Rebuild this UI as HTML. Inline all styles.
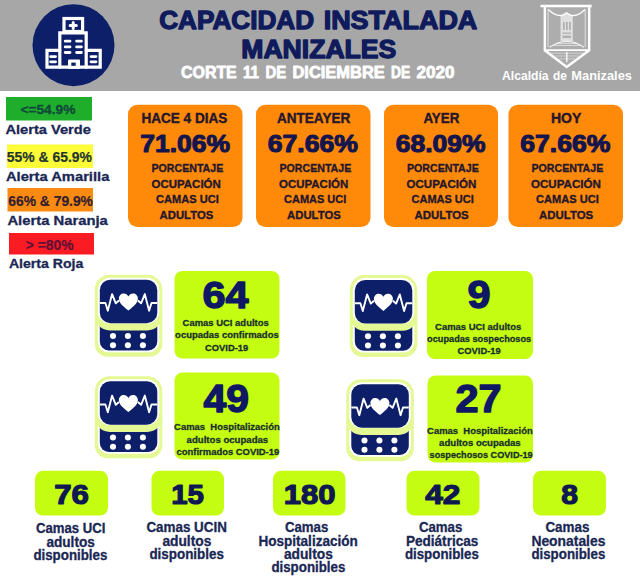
<!DOCTYPE html>
<html lang="es">
<head>
<meta charset="utf-8">
<title>Capacidad Instalada Manizales</title>
<style>
html,body{margin:0;padding:0;background:#ffffff;}
body{width:640px;height:576px;overflow:hidden;font-family:"Liberation Sans",sans-serif;}
svg{display:block;font-family:"Liberation Sans",sans-serif;}
text{white-space:pre;}
</style>
</head>
<body>
<svg width="640" height="576" viewBox="0 0 640 576">
<rect x="0" y="0" width="640" height="576" fill="#ffffff"/>
<rect x="0.00" y="0.00" width="640.00" height="91.00" rx="0" fill="#a7a7a7" />
<circle cx="73.5" cy="45.2" r="41" fill="#0c1f68"/>
<g fill="none" stroke="#fff" stroke-width="3.2" stroke-linejoin="miter" stroke-linecap="round"><rect x="64" y="18.5" width="18.6" height="13"/><path d="M59.8 67.2V32.8H86.2V67.2"/><path d="M59.8 50.4H47V67.2H100.2V50.4H86.2"/><path d="M65.2 41.2H70M76.6 41.2H81.4M65.2 46.9H70M76.6 46.9H81.4M65.2 52.5H70M76.6 52.5H81.4" stroke-width="2.8"/><path d="M50.6 56.6H55.6M50.6 61.8H55.6M91 56.6H96M91 61.8H96" stroke-width="2.8"/><path d="M73.2 22.4V28.6M70.1 25.5H76.3" stroke-width="3"/></g>
<rect x="68" y="59.4" width="12" height="9.4" rx="0.8" fill="#fff"/><rect x="71.3" y="62.6" width="4.4" height="3.2" fill="#0c1f68"/>
<text x="159.26" y="29.35" font-size="25.22" font-weight="bold" fill="#0f1b5c" textLength="154.86" lengthAdjust="spacingAndGlyphs" stroke="#0f1b5c" stroke-width="1.3" stroke-linejoin="round" >CAPACIDAD</text>
<text x="323.66" y="29.35" font-size="25.22" font-weight="bold" fill="#0f1b5c" textLength="153.66" lengthAdjust="spacingAndGlyphs" stroke="#0f1b5c" stroke-width="1.3" stroke-linejoin="round" >INSTALADA</text>
<text x="241.27" y="58.15" font-size="25.07" font-weight="bold" fill="#0f1b5c" textLength="155.04" lengthAdjust="spacingAndGlyphs" stroke="#0f1b5c" stroke-width="1.3" stroke-linejoin="round" >MANIZALES</text>
<text x="181.01" y="77.60" font-size="16.23" font-weight="bold" fill="#ffffff" textLength="55.72" lengthAdjust="spacingAndGlyphs" stroke="#ffffff" stroke-width="0.8" stroke-linejoin="round" >CORTE</text>
<text x="242.91" y="77.60" font-size="16.23" font-weight="bold" fill="#ffffff" textLength="16.03" lengthAdjust="spacingAndGlyphs" stroke="#ffffff" stroke-width="0.8" stroke-linejoin="round" >11</text>
<text x="265.51" y="77.60" font-size="16.23" font-weight="bold" fill="#ffffff" textLength="20.72" lengthAdjust="spacingAndGlyphs" stroke="#ffffff" stroke-width="0.8" stroke-linejoin="round" >DE</text>
<text x="292.51" y="77.60" font-size="16.23" font-weight="bold" fill="#ffffff" textLength="92.22" lengthAdjust="spacingAndGlyphs" stroke="#ffffff" stroke-width="0.8" stroke-linejoin="round" >DICIEMBRE</text>
<text x="391.01" y="77.60" font-size="16.23" font-weight="bold" fill="#ffffff" textLength="19.22" lengthAdjust="spacingAndGlyphs" stroke="#ffffff" stroke-width="0.8" stroke-linejoin="round" >DE</text>
<text x="416.41" y="77.60" font-size="16.23" font-weight="bold" fill="#ffffff" textLength="38.03" lengthAdjust="spacingAndGlyphs" stroke="#ffffff" stroke-width="0.8" stroke-linejoin="round" >2020</text>
<path d="M544.8 7V50L566.5 66.5L588.8 50V7Z" fill="#fff" opacity="0.07"/>
<g fill="none" stroke="#fff" stroke-linejoin="miter"><path d="M540.5 6H591.7" stroke-width="2.6"/><path d="M544.8 6.5V50.3L566.7 67L589.2 50.3V6.5" stroke-width="2.4"/><path d="M548 9.5V47M585.2 9.5V47" stroke-width="0.8" opacity="0.8"/><path d="M545 50.2H589" stroke-width="1.8"/><path d="M548.3 9.5Q556 16.8 562.5 15.3L566.6 12.8L570.7 15.3Q577.5 16.8 585 9.5" stroke-width="1.5" opacity="0.95"/><path d="M549.5 47.3Q566.7 35.5 584 47.3" stroke-width="1.2" opacity="0.85"/><path d="M553.5 45.4H580M557 43.3H576.5" stroke-width="0.9" opacity="0.7"/><path d="M551 53.2H583M555 56H579M559 58.8H575" stroke-width="0.8" opacity="0.55"/><path d="M566.8 52V62" stroke-width="1.6" opacity="0.8"/></g>
<g fill="#fff"><path d="M560.5 15.5L566.6 13L572.8 15.5V41H560.5Z" opacity="0.62"/></g>
<g fill="#a7a7a7" opacity="0.8"><rect x="563" y="22" width="1.8" height="8"/><rect x="566" y="22" width="1.8" height="8"/><rect x="569" y="22" width="1.8" height="8"/><rect x="562.5" y="32.5" width="8.5" height="1.4"/><rect x="562.5" y="35.5" width="8.5" height="2.6"/></g>
<text x="502.02" y="80.00" font-size="12.32" font-weight="bold" fill="#ffffff" textLength="46.55" lengthAdjust="spacingAndGlyphs" >Alcaldía</text>
<text x="553.02" y="80.00" font-size="12.32" font-weight="bold" fill="#ffffff" textLength="13.85" lengthAdjust="spacingAndGlyphs" >de</text>
<text x="571.32" y="80.00" font-size="12.32" font-weight="bold" fill="#ffffff" textLength="60.65" lengthAdjust="spacingAndGlyphs" >Manizales</text>
<rect x="6.00" y="97.00" width="86.00" height="23.50" rx="0" fill="#1eae2b" />
<text x="20.40" y="114.15" font-size="13.62" font-weight="bold" fill="#12493a" textLength="54.97" lengthAdjust="spacingAndGlyphs" stroke="#12493a" stroke-width="0.3" stroke-linejoin="round" >&lt;=54.9%</text>
<text x="5.42" y="134.35" font-size="13.33" font-weight="bold" fill="#1a2754" textLength="85.45" lengthAdjust="spacingAndGlyphs" stroke="#1a2754" stroke-width="0.3" stroke-linejoin="round" >Alerta Verde</text>
<rect x="7.00" y="144.50" width="86.00" height="23.50" rx="0" fill="#fcfd38" />
<text x="6.82" y="161.90" font-size="14.20" font-weight="bold" fill="#24342e" textLength="85.13" lengthAdjust="spacingAndGlyphs" stroke="#24342e" stroke-width="0.2" stroke-linejoin="round" >55% &amp; 65.9%</text>
<text x="5.92" y="181.35" font-size="13.33" font-weight="bold" fill="#1a2754" textLength="103.45" lengthAdjust="spacingAndGlyphs" stroke="#1a2754" stroke-width="0.3" stroke-linejoin="round" >Alerta Amarilla</text>
<rect x="7.50" y="188.00" width="85.50" height="23.50" rx="0" fill="#f98a12" />
<text x="8.33" y="205.90" font-size="14.06" font-weight="bold" fill="#33202e" textLength="84.61" lengthAdjust="spacingAndGlyphs" stroke="#33202e" stroke-width="0.2" stroke-linejoin="round" >66% &amp; 79.9%</text>
<text x="7.42" y="224.85" font-size="13.33" font-weight="bold" fill="#1a2754" textLength="100.45" lengthAdjust="spacingAndGlyphs" stroke="#1a2754" stroke-width="0.3" stroke-linejoin="round" >Alerta Naranja</text>
<rect x="9.00" y="233.00" width="85.00" height="21.50" rx="0" fill="#fb1b22" />
<text x="25.83" y="249.60" font-size="14.06" font-weight="bold" fill="#5f1038" textLength="47.61" lengthAdjust="spacingAndGlyphs" stroke="#5f1038" stroke-width="0.2" stroke-linejoin="round" >&gt; =80%</text>
<text x="8.92" y="267.85" font-size="13.33" font-weight="bold" fill="#1a2754" textLength="74.45" lengthAdjust="spacingAndGlyphs" stroke="#1a2754" stroke-width="0.3" stroke-linejoin="round" >Alerta Roja</text>
<rect x="128.00" y="104.80" width="114.50" height="122.20" rx="9.5" fill="#ff8a0a" />
<text x="141.44" y="122.70" font-size="13.77" font-weight="bold" fill="#26172a" textLength="85.89" lengthAdjust="spacingAndGlyphs" stroke="#26172a" stroke-width="0.4" stroke-linejoin="round" >HACE 4 DIAS</text>
<text x="140.31" y="151.95" font-size="24.78" font-weight="bold" fill="#14154c" textLength="89.66" lengthAdjust="spacingAndGlyphs" stroke="#14154c" stroke-width="1.1" stroke-linejoin="round" >71.06%</text>
<text x="151.55" y="172.02" font-size="11.38" font-weight="bold" fill="#26172a" textLength="71.71" lengthAdjust="spacingAndGlyphs" stroke="#26172a" stroke-width="0.35" stroke-linejoin="round" >PORCENTAJE</text>
<text x="151.55" y="187.52" font-size="11.38" font-weight="bold" fill="#26172a" textLength="69.21" lengthAdjust="spacingAndGlyphs" stroke="#26172a" stroke-width="0.35" stroke-linejoin="round" >OCUPACIÓN</text>
<text x="156.05" y="203.22" font-size="11.38" font-weight="bold" fill="#26172a" textLength="62.71" lengthAdjust="spacingAndGlyphs" stroke="#26172a" stroke-width="0.35" stroke-linejoin="round" >CAMAS UCI</text>
<text x="159.55" y="219.12" font-size="11.38" font-weight="bold" fill="#26172a" textLength="53.71" lengthAdjust="spacingAndGlyphs" stroke="#26172a" stroke-width="0.35" stroke-linejoin="round" >ADULTOS</text>
<rect x="256.00" y="104.80" width="114.50" height="122.20" rx="9.5" fill="#ff8a0a" />
<text x="276.94" y="122.70" font-size="13.77" font-weight="bold" fill="#26172a" textLength="73.39" lengthAdjust="spacingAndGlyphs" stroke="#26172a" stroke-width="0.4" stroke-linejoin="round" >ANTEAYER</text>
<text x="267.81" y="151.95" font-size="24.78" font-weight="bold" fill="#14154c" textLength="90.16" lengthAdjust="spacingAndGlyphs" stroke="#14154c" stroke-width="1.1" stroke-linejoin="round" >67.66%</text>
<text x="279.55" y="172.02" font-size="11.38" font-weight="bold" fill="#26172a" textLength="71.71" lengthAdjust="spacingAndGlyphs" stroke="#26172a" stroke-width="0.35" stroke-linejoin="round" >PORCENTAJE</text>
<text x="279.05" y="187.52" font-size="11.38" font-weight="bold" fill="#26172a" textLength="69.21" lengthAdjust="spacingAndGlyphs" stroke="#26172a" stroke-width="0.35" stroke-linejoin="round" >OCUPACIÓN</text>
<text x="284.05" y="203.22" font-size="11.38" font-weight="bold" fill="#26172a" textLength="62.21" lengthAdjust="spacingAndGlyphs" stroke="#26172a" stroke-width="0.35" stroke-linejoin="round" >CAMAS UCI</text>
<text x="287.05" y="219.12" font-size="11.38" font-weight="bold" fill="#26172a" textLength="53.71" lengthAdjust="spacingAndGlyphs" stroke="#26172a" stroke-width="0.35" stroke-linejoin="round" >ADULTOS</text>
<rect x="384.00" y="104.80" width="114.00" height="122.20" rx="9.5" fill="#ff8a0a" />
<text x="423.44" y="122.70" font-size="13.77" font-weight="bold" fill="#26172a" textLength="35.89" lengthAdjust="spacingAndGlyphs" stroke="#26172a" stroke-width="0.4" stroke-linejoin="round" >AYER</text>
<text x="395.81" y="151.95" font-size="24.78" font-weight="bold" fill="#14154c" textLength="89.66" lengthAdjust="spacingAndGlyphs" stroke="#14154c" stroke-width="1.1" stroke-linejoin="round" >68.09%</text>
<text x="407.05" y="172.02" font-size="11.38" font-weight="bold" fill="#26172a" textLength="71.71" lengthAdjust="spacingAndGlyphs" stroke="#26172a" stroke-width="0.35" stroke-linejoin="round" >PORCENTAJE</text>
<text x="406.55" y="187.52" font-size="11.38" font-weight="bold" fill="#26172a" textLength="69.71" lengthAdjust="spacingAndGlyphs" stroke="#26172a" stroke-width="0.35" stroke-linejoin="round" >OCUPACIÓN</text>
<text x="411.55" y="203.22" font-size="11.38" font-weight="bold" fill="#26172a" textLength="62.21" lengthAdjust="spacingAndGlyphs" stroke="#26172a" stroke-width="0.35" stroke-linejoin="round" >CAMAS UCI</text>
<text x="414.55" y="219.12" font-size="11.38" font-weight="bold" fill="#26172a" textLength="54.21" lengthAdjust="spacingAndGlyphs" stroke="#26172a" stroke-width="0.35" stroke-linejoin="round" >ADULTOS</text>
<rect x="508.50" y="104.80" width="114.50" height="122.20" rx="9.5" fill="#ff8a0a" />
<text x="550.94" y="122.70" font-size="13.77" font-weight="bold" fill="#26172a" textLength="30.39" lengthAdjust="spacingAndGlyphs" stroke="#26172a" stroke-width="0.4" stroke-linejoin="round" >HOY</text>
<text x="520.31" y="151.95" font-size="24.78" font-weight="bold" fill="#14154c" textLength="90.16" lengthAdjust="spacingAndGlyphs" stroke="#14154c" stroke-width="1.1" stroke-linejoin="round" >67.66%</text>
<text x="531.55" y="172.02" font-size="11.38" font-weight="bold" fill="#26172a" textLength="71.71" lengthAdjust="spacingAndGlyphs" stroke="#26172a" stroke-width="0.35" stroke-linejoin="round" >PORCENTAJE</text>
<text x="531.05" y="187.52" font-size="11.38" font-weight="bold" fill="#26172a" textLength="69.71" lengthAdjust="spacingAndGlyphs" stroke="#26172a" stroke-width="0.35" stroke-linejoin="round" >OCUPACIÓN</text>
<text x="536.05" y="203.22" font-size="11.38" font-weight="bold" fill="#26172a" textLength="62.71" lengthAdjust="spacingAndGlyphs" stroke="#26172a" stroke-width="0.35" stroke-linejoin="round" >CAMAS UCI</text>
<text x="539.05" y="219.12" font-size="11.38" font-weight="bold" fill="#26172a" textLength="54.21" lengthAdjust="spacingAndGlyphs" stroke="#26172a" stroke-width="0.35" stroke-linejoin="round" >ADULTOS</text>
<g transform="translate(99.80,279.70)"><rect x="-5" y="25" width="67.5" height="52.1" rx="13" fill="#e4f894"/><rect x="-2" y="27" width="61.5" height="45.6" rx="10.5" fill="#fff"/><rect x="0" y="30" width="57.5" height="40.7" rx="9" fill="#0c1f68"/><rect x="-5" y="-5" width="67.5" height="55.8" rx="15" fill="#e4f894"/><rect x="-2" y="-2" width="61.5" height="45.8" rx="12" fill="#fff"/><rect x="0" y="0" width="57.5" height="43.5" rx="10.5" fill="#0c1f68"/><path d="M0 23.3H5.6L8 31L12.3 14.4L16 23.6L19.2 20.8M38.1 20.8L41.3 23.6L45 14.4L49.3 31L51.7 23.3H57.5" fill="none" stroke="#fff" stroke-width="1.9" stroke-linejoin="round"/><path d="M28.6 30.9 C24 27 19.1 23.4 19.1 19 C19.1 15.8 21.4 13.8 23.9 13.8 C26 13.8 27.6 15 28.6 16.7 C29.6 15 31.2 13.8 33.3 13.8 C35.8 13.8 38.1 15.8 38.1 19 C38.1 23.4 33.2 27 28.6 30.9Z" fill="#fff"/><circle cx="13.2" cy="56.3" r="3.05" fill="#fff"/><circle cx="13.2" cy="65.5" r="3.05" fill="#fff"/><circle cx="28.1" cy="56.3" r="3.05" fill="#fff"/><circle cx="28.1" cy="65.5" r="3.05" fill="#fff"/><circle cx="43.1" cy="56.3" r="3.05" fill="#fff"/><circle cx="43.1" cy="65.5" r="3.05" fill="#fff"/></g>
<g transform="translate(99.80,381.20)"><rect x="-5" y="25" width="67.5" height="52.1" rx="13" fill="#e4f894"/><rect x="-2" y="27" width="61.5" height="45.6" rx="10.5" fill="#fff"/><rect x="0" y="30" width="57.5" height="40.7" rx="9" fill="#0c1f68"/><rect x="-5" y="-5" width="67.5" height="55.8" rx="15" fill="#e4f894"/><rect x="-2" y="-2" width="61.5" height="45.8" rx="12" fill="#fff"/><rect x="0" y="0" width="57.5" height="43.5" rx="10.5" fill="#0c1f68"/><path d="M0 23.3H5.6L8 31L12.3 14.4L16 23.6L19.2 20.8M38.1 20.8L41.3 23.6L45 14.4L49.3 31L51.7 23.3H57.5" fill="none" stroke="#fff" stroke-width="1.9" stroke-linejoin="round"/><path d="M28.6 30.9 C24 27 19.1 23.4 19.1 19 C19.1 15.8 21.4 13.8 23.9 13.8 C26 13.8 27.6 15 28.6 16.7 C29.6 15 31.2 13.8 33.3 13.8 C35.8 13.8 38.1 15.8 38.1 19 C38.1 23.4 33.2 27 28.6 30.9Z" fill="#fff"/><circle cx="13.2" cy="56.3" r="3.05" fill="#fff"/><circle cx="13.2" cy="65.5" r="3.05" fill="#fff"/><circle cx="28.1" cy="56.3" r="3.05" fill="#fff"/><circle cx="28.1" cy="65.5" r="3.05" fill="#fff"/><circle cx="43.1" cy="56.3" r="3.05" fill="#fff"/><circle cx="43.1" cy="65.5" r="3.05" fill="#fff"/></g>
<g transform="translate(354.80,280.00)"><rect x="-5" y="25" width="67.5" height="52.1" rx="13" fill="#e4f894"/><rect x="-2" y="27" width="61.5" height="45.6" rx="10.5" fill="#fff"/><rect x="0" y="30" width="57.5" height="40.7" rx="9" fill="#0c1f68"/><rect x="-5" y="-5" width="67.5" height="55.8" rx="15" fill="#e4f894"/><rect x="-2" y="-2" width="61.5" height="45.8" rx="12" fill="#fff"/><rect x="0" y="0" width="57.5" height="43.5" rx="10.5" fill="#0c1f68"/><path d="M0 23.3H5.6L8 31L12.3 14.4L16 23.6L19.2 20.8M38.1 20.8L41.3 23.6L45 14.4L49.3 31L51.7 23.3H57.5" fill="none" stroke="#fff" stroke-width="1.9" stroke-linejoin="round"/><path d="M28.6 30.9 C24 27 19.1 23.4 19.1 19 C19.1 15.8 21.4 13.8 23.9 13.8 C26 13.8 27.6 15 28.6 16.7 C29.6 15 31.2 13.8 33.3 13.8 C35.8 13.8 38.1 15.8 38.1 19 C38.1 23.4 33.2 27 28.6 30.9Z" fill="#fff"/><circle cx="13.2" cy="56.3" r="3.05" fill="#fff"/><circle cx="13.2" cy="65.5" r="3.05" fill="#fff"/><circle cx="28.1" cy="56.3" r="3.05" fill="#fff"/><circle cx="28.1" cy="65.5" r="3.05" fill="#fff"/><circle cx="43.1" cy="56.3" r="3.05" fill="#fff"/><circle cx="43.1" cy="65.5" r="3.05" fill="#fff"/></g>
<g transform="translate(351.30,384.20)"><rect x="-5" y="25" width="67.5" height="52.1" rx="13" fill="#e4f894"/><rect x="-2" y="27" width="61.5" height="45.6" rx="10.5" fill="#fff"/><rect x="0" y="30" width="57.5" height="40.7" rx="9" fill="#0c1f68"/><rect x="-5" y="-5" width="67.5" height="55.8" rx="15" fill="#e4f894"/><rect x="-2" y="-2" width="61.5" height="45.8" rx="12" fill="#fff"/><rect x="0" y="0" width="57.5" height="43.5" rx="10.5" fill="#0c1f68"/><path d="M0 23.3H5.6L8 31L12.3 14.4L16 23.6L19.2 20.8M38.1 20.8L41.3 23.6L45 14.4L49.3 31L51.7 23.3H57.5" fill="none" stroke="#fff" stroke-width="1.9" stroke-linejoin="round"/><path d="M28.6 30.9 C24 27 19.1 23.4 19.1 19 C19.1 15.8 21.4 13.8 23.9 13.8 C26 13.8 27.6 15 28.6 16.7 C29.6 15 31.2 13.8 33.3 13.8 C35.8 13.8 38.1 15.8 38.1 19 C38.1 23.4 33.2 27 28.6 30.9Z" fill="#fff"/><circle cx="13.2" cy="56.3" r="3.05" fill="#fff"/><circle cx="13.2" cy="65.5" r="3.05" fill="#fff"/><circle cx="28.1" cy="56.3" r="3.05" fill="#fff"/><circle cx="28.1" cy="65.5" r="3.05" fill="#fff"/><circle cx="43.1" cy="56.3" r="3.05" fill="#fff"/><circle cx="43.1" cy="65.5" r="3.05" fill="#fff"/></g>
<rect x="174.50" y="271.00" width="105.00" height="87.50" rx="8" fill="#c5fd12" />
<text x="202.57" y="307.80" font-size="37.83" font-weight="bold" fill="#0f1862" textLength="46.03" lengthAdjust="spacingAndGlyphs" stroke="#0f1862" stroke-width="1.4" stroke-linejoin="round" >64</text>
<text x="182.62" y="326.35" font-size="9.57" font-weight="bold" fill="#18302c" textLength="86.09" lengthAdjust="spacingAndGlyphs" stroke="#18302c" stroke-width="0.3" stroke-linejoin="round" >Camas UCI adultos</text>
<text x="175.12" y="338.35" font-size="9.57" font-weight="bold" fill="#18302c" textLength="103.59" lengthAdjust="spacingAndGlyphs" stroke="#18302c" stroke-width="0.3" stroke-linejoin="round" >ocupadas confirmados</text>
<text x="205.12" y="350.85" font-size="9.57" font-weight="bold" fill="#18302c" textLength="43.09" lengthAdjust="spacingAndGlyphs" stroke="#18302c" stroke-width="0.3" stroke-linejoin="round" >COVID-19</text>
<rect x="174.50" y="372.50" width="105.00" height="87.00" rx="8" fill="#c5fd12" />
<text x="203.54" y="412.30" font-size="38.55" font-weight="bold" fill="#0f1862" textLength="45.57" lengthAdjust="spacingAndGlyphs" stroke="#0f1862" stroke-width="1.4" stroke-linejoin="round" >49</text>
<text x="174.12" y="430.05" font-size="9.57" font-weight="bold" fill="#18302c" textLength="105.59" lengthAdjust="spacingAndGlyphs" stroke="#18302c" stroke-width="0.3" stroke-linejoin="round" >Camas  Hospitalización</text>
<text x="186.62" y="442.55" font-size="9.57" font-weight="bold" fill="#18302c" textLength="81.59" lengthAdjust="spacingAndGlyphs" stroke="#18302c" stroke-width="0.3" stroke-linejoin="round" >adultos ocupadas</text>
<text x="176.62" y="455.05" font-size="9.57" font-weight="bold" fill="#18302c" textLength="102.59" lengthAdjust="spacingAndGlyphs" stroke="#18302c" stroke-width="0.3" stroke-linejoin="round" >confirmados COVID-19</text>
<rect x="427.00" y="271.00" width="106.00" height="88.00" rx="8" fill="#c5fd12" />
<text x="467.54" y="308.30" font-size="38.55" font-weight="bold" fill="#0f1862" textLength="23.07" lengthAdjust="spacingAndGlyphs" stroke="#0f1862" stroke-width="1.4" stroke-linejoin="round" >9</text>
<text x="435.12" y="329.75" font-size="9.57" font-weight="bold" fill="#18302c" textLength="86.09" lengthAdjust="spacingAndGlyphs" stroke="#18302c" stroke-width="0.3" stroke-linejoin="round" >Camas UCI adultos</text>
<text x="427.12" y="341.75" font-size="9.57" font-weight="bold" fill="#18302c" textLength="104.09" lengthAdjust="spacingAndGlyphs" stroke="#18302c" stroke-width="0.3" stroke-linejoin="round" >ocupadas sospechosos</text>
<text x="457.62" y="354.25" font-size="9.57" font-weight="bold" fill="#18302c" textLength="43.09" lengthAdjust="spacingAndGlyphs" stroke="#18302c" stroke-width="0.3" stroke-linejoin="round" >COVID-19</text>
<rect x="427.50" y="375.50" width="105.50" height="87.00" rx="8" fill="#c5fd12" />
<text x="455.54" y="412.30" font-size="38.55" font-weight="bold" fill="#0f1862" textLength="46.07" lengthAdjust="spacingAndGlyphs" stroke="#0f1862" stroke-width="1.4" stroke-linejoin="round" >27</text>
<text x="427.12" y="433.55" font-size="9.57" font-weight="bold" fill="#18302c" textLength="105.59" lengthAdjust="spacingAndGlyphs" stroke="#18302c" stroke-width="0.3" stroke-linejoin="round" >Camas  Hospitalización</text>
<text x="439.12" y="445.55" font-size="9.57" font-weight="bold" fill="#18302c" textLength="81.59" lengthAdjust="spacingAndGlyphs" stroke="#18302c" stroke-width="0.3" stroke-linejoin="round" >adultos ocupadas</text>
<text x="429.62" y="458.05" font-size="9.57" font-weight="bold" fill="#18302c" textLength="103.09" lengthAdjust="spacingAndGlyphs" stroke="#18302c" stroke-width="0.3" stroke-linejoin="round" >sospechosos COVID-19</text>
<rect x="35.00" y="470.80" width="73.00" height="44.70" rx="8" fill="#c5fd12" />
<text x="54.25" y="504.20" font-size="28.41" font-weight="bold" fill="#0f1850" textLength="34.75" lengthAdjust="spacingAndGlyphs" stroke="#0f1850" stroke-width="1.2" stroke-linejoin="round" >76</text>
<text x="35.88" y="533.25" font-size="13.91" font-weight="bold" fill="#1a2754" textLength="69.50" lengthAdjust="spacingAndGlyphs" stroke="#1a2754" stroke-width="0.3" stroke-linejoin="round" >Camas UCI</text>
<text x="46.38" y="546.75" font-size="13.91" font-weight="bold" fill="#1a2754" textLength="48.50" lengthAdjust="spacingAndGlyphs" stroke="#1a2754" stroke-width="0.3" stroke-linejoin="round" >adultos</text>
<text x="33.38" y="559.75" font-size="13.91" font-weight="bold" fill="#1a2754" textLength="74.00" lengthAdjust="spacingAndGlyphs" stroke="#1a2754" stroke-width="0.3" stroke-linejoin="round" >disponibles</text>
<rect x="151.50" y="470.80" width="72.50" height="44.70" rx="8" fill="#c5fd12" />
<text x="171.25" y="504.20" font-size="28.41" font-weight="bold" fill="#0f1850" textLength="32.75" lengthAdjust="spacingAndGlyphs" stroke="#0f1850" stroke-width="1.2" stroke-linejoin="round" >15</text>
<text x="146.38" y="532.25" font-size="13.91" font-weight="bold" fill="#1a2754" textLength="80.50" lengthAdjust="spacingAndGlyphs" stroke="#1a2754" stroke-width="0.3" stroke-linejoin="round" >Camas UCIN</text>
<text x="162.38" y="545.75" font-size="13.91" font-weight="bold" fill="#1a2754" textLength="49.00" lengthAdjust="spacingAndGlyphs" stroke="#1a2754" stroke-width="0.3" stroke-linejoin="round" >adultos</text>
<text x="149.38" y="558.75" font-size="13.91" font-weight="bold" fill="#1a2754" textLength="74.50" lengthAdjust="spacingAndGlyphs" stroke="#1a2754" stroke-width="0.3" stroke-linejoin="round" >disponibles</text>
<rect x="273.00" y="470.80" width="72.50" height="44.70" rx="8" fill="#c5fd12" />
<text x="283.75" y="504.20" font-size="28.41" font-weight="bold" fill="#0f1850" textLength="51.75" lengthAdjust="spacingAndGlyphs" stroke="#0f1850" stroke-width="1.2" stroke-linejoin="round" >180</text>
<text x="284.88" y="532.25" font-size="13.91" font-weight="bold" fill="#1a2754" textLength="43.50" lengthAdjust="spacingAndGlyphs" stroke="#1a2754" stroke-width="0.3" stroke-linejoin="round" >Camas</text>
<text x="258.38" y="545.75" font-size="13.91" font-weight="bold" fill="#1a2754" textLength="99.50" lengthAdjust="spacingAndGlyphs" stroke="#1a2754" stroke-width="0.3" stroke-linejoin="round" >Hospitalización</text>
<text x="283.88" y="559.25" font-size="13.91" font-weight="bold" fill="#1a2754" textLength="49.00" lengthAdjust="spacingAndGlyphs" stroke="#1a2754" stroke-width="0.3" stroke-linejoin="round" >adultos</text>
<text x="271.38" y="572.25" font-size="13.91" font-weight="bold" fill="#1a2754" textLength="74.00" lengthAdjust="spacingAndGlyphs" stroke="#1a2754" stroke-width="0.3" stroke-linejoin="round" >disponibles</text>
<rect x="406.50" y="470.80" width="73.00" height="44.70" rx="8" fill="#c5fd12" />
<text x="425.25" y="504.20" font-size="28.41" font-weight="bold" fill="#0f1850" textLength="35.25" lengthAdjust="spacingAndGlyphs" stroke="#0f1850" stroke-width="1.2" stroke-linejoin="round" >42</text>
<text x="418.88" y="532.25" font-size="13.91" font-weight="bold" fill="#1a2754" textLength="43.50" lengthAdjust="spacingAndGlyphs" stroke="#1a2754" stroke-width="0.3" stroke-linejoin="round" >Camas</text>
<text x="405.88" y="545.75" font-size="13.91" font-weight="bold" fill="#1a2754" textLength="72.50" lengthAdjust="spacingAndGlyphs" stroke="#1a2754" stroke-width="0.3" stroke-linejoin="round" >Pediátricas</text>
<text x="404.88" y="558.75" font-size="13.91" font-weight="bold" fill="#1a2754" textLength="74.00" lengthAdjust="spacingAndGlyphs" stroke="#1a2754" stroke-width="0.3" stroke-linejoin="round" >disponibles</text>
<rect x="533.00" y="470.80" width="73.00" height="44.70" rx="8" fill="#c5fd12" />
<text x="561.25" y="504.20" font-size="28.41" font-weight="bold" fill="#0f1850" textLength="16.75" lengthAdjust="spacingAndGlyphs" stroke="#0f1850" stroke-width="1.2" stroke-linejoin="round" >8</text>
<text x="545.38" y="532.25" font-size="13.91" font-weight="bold" fill="#1a2754" textLength="44.00" lengthAdjust="spacingAndGlyphs" stroke="#1a2754" stroke-width="0.3" stroke-linejoin="round" >Camas</text>
<text x="531.38" y="545.75" font-size="13.91" font-weight="bold" fill="#1a2754" textLength="74.00" lengthAdjust="spacingAndGlyphs" stroke="#1a2754" stroke-width="0.3" stroke-linejoin="round" >Neonatales</text>
<text x="531.38" y="558.75" font-size="13.91" font-weight="bold" fill="#1a2754" textLength="74.00" lengthAdjust="spacingAndGlyphs" stroke="#1a2754" stroke-width="0.3" stroke-linejoin="round" >disponibles</text>
</svg>
</body>
</html>
